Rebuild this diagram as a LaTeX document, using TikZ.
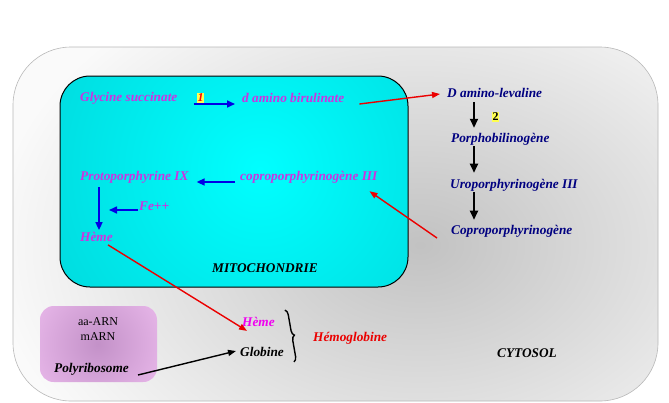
\documentclass[tikz,border=0pt]{standalone}
\usepackage{fontspec}
\setmainfont{Liberation Serif}
\usetikzlibrary{arrows.meta,decorations.pathreplacing}
\definecolor{magtxt}{RGB}{204,51,224}
\definecolor{navytxt}{RGB}{0,0,128}
\definecolor{brightmag}{RGB}{240,0,240}
\definecolor{bluearr}{RGB}{0,0,230}
\definecolor{redarr}{RGB}{235,0,0}
\definecolor{cyanin}{RGB}{0,255,255}
\definecolor{cyanout}{RGB}{0,205,210}
\definecolor{pinkin}{RGB}{195,145,200}
\definecolor{pinkout}{RGB}{248,200,248}
\definecolor{hilite}{RGB}{255,255,80}
\definecolor{bgedge}{RGB}{250,250,250}
\tikzset{
  lbl/.style={anchor=west,inner sep=0pt,font=\fontsize{13.3}{14}\selectfont\bfseries\itshape},
  mtxt/.style={lbl,text=magtxt},
  ntxt/.style={lbl,text=navytxt},
  ktxt/.style={lbl,text=black},
  numbox/.style={inner sep=0.6pt,fill=hilite,font=\fontsize{12}{13}\selectfont\bfseries},
  bluea/.style={draw=bluearr,line width=1.6pt,-{Triangle[length=8pt,width=7pt]}},
  blacka/.style={draw=black,line width=2pt,-{Triangle[length=9pt,width=8pt]}},
  blacka2/.style={draw=black,line width=1.4pt,-{Triangle[length=8pt,width=6pt]}},
  reda/.style={draw=redarr,line width=1.4pt,-{Triangle[length=8pt,width=6pt]}},
}
\begin{document}
\begin{tikzpicture}[x=1pt,y=-1pt]
\useasboundingbox (0,0) rectangle (669,402);
% outer cytosol box
\begin{scope}
  \clip[rounded corners=58] (13,47) rectangle (658,401);
  \fill[bgedge] (0,0) rectangle (669,402);
  \shade[inner color=black!24, outer color=bgedge] (420,245) ellipse (430 and 300);
\end{scope}
\draw[black!28,line width=0.6pt,rounded corners=58] (13,47) rectangle (658,401);
% mitochondria box
\begin{scope}
  \clip[rounded corners=30] (60,76) rectangle (408,287);
  \shade[inner color=cyanin, outer color=cyanout] (260,170) circle (330);
\end{scope}
\draw[black,line width=1pt,rounded corners=30] (60,76) rectangle (408,287);
% pink box
\begin{scope}
  \clip[rounded corners=14] (40,306) rectangle (157,382);
  \fill[pinkout] (40,306) rectangle (157,382);
  \shade[inner color=pinkin, outer color=pinkout] (98,344) circle (105);
\end{scope}

% mitochondria texts
\node[mtxt] (gly) at (80,98) {Glycine succinate};
\node[numbox,text=red] (one) at (200.5,98) {\itshape 1};
\node[mtxt] (dab) at (242,98) {d amino birulinate};
\node[mtxt] (proto) at (80,177) {Protoporphyrine IX};
\node[mtxt] (copro3) at (240,177) {coproporphyrinogène III};
\node[mtxt] (fe) at (139,206) {Fe++};
\node[mtxt] (heme1) at (80,237) {Hème};
\node[ktxt] (mito) at (212,268) {MITOCHONDRIE};

% cytosol column
\node[ntxt] (dal) at (447,93) {D amino-levaline};
\node[numbox,text=black] (two) at (495.5,117) {2};
\node[ntxt] (pbg) at (451,139) {Porphobilinogène};
\node[ntxt] (uro) at (450,185) {Uroporphyrinogène III};
\node[ntxt] (copro) at (451,231) {Coproporphyrinogène};

% bottom
\node[lbl,text=brightmag] (heme2) at (242,322) {Hème};
\node[ktxt] (glob) at (240,352) {Globine};
\node[lbl,text=redarr] (hgb) at (313,338) {Hémoglobine};
\node[ktxt] (cyto) at (497,353) {CYTOSOL};
\node[anchor=center,inner sep=0pt,align=center,font=\fontsize{12}{15}\selectfont] (arn) at (98,329.5) {aa-ARN\\mARN};
\node[ktxt] (poly) at (54,369) {Polyribosome};

% connectors inside mitochondria
\draw[bluea] ([xshift=16pt,yshift=-6pt]gly.east) -- ([xshift=-7pt,yshift=-6pt]dab.west);
\draw[bluea] ([xshift=-5pt,yshift=-5pt]copro3.west) -- ([xshift=8pt,yshift=-5pt]proto.east);
\draw[bluea] ([xshift=19pt,yshift=-4pt]proto.south west) -- ([xshift=19pt,yshift=2pt]heme1.north west);
\draw[bluea] ([xshift=-1pt,yshift=-4pt]fe.west) -- ++(-29,0) coordinate (feend);
% red connectors
\draw[reda] ([xshift=15pt,yshift=-6pt]dab.east) -- ([xshift=-7pt,yshift=-1pt]dal.west);
\draw[reda] ([xshift=-14pt,yshift=-7pt]copro.west) -- ([xshift=-8pt,yshift=-8pt]copro3.south east);
\draw[reda] ([xshift=28pt,yshift=-3pt]heme1.south west) -- ([xshift=5pt,yshift=-4pt]heme2.south west);
% black column arrows
\draw[blacka] ([xshift=27pt,yshift=-4pt]dal.south west) -- ([xshift=23pt,yshift=5pt]pbg.north west);
\draw[blacka] ([xshift=23pt,yshift=-1pt]pbg.south west) -- ([xshift=24pt,yshift=6pt]uro.north west);
\draw[blacka] ([xshift=24pt,yshift=-1pt]uro.south west) -- ([xshift=23pt,yshift=5pt]copro.north west);
% polyribosome to globine
\draw[blacka2] ([xshift=9pt,yshift=-6pt]poly.east) -- ([xshift=-4pt,yshift=1pt]glob.west);
% brace
\draw[black,line width=1.4pt,decorate,decoration={brace,amplitude=5pt}] ([xshift=10pt,yshift=7pt]heme2.north east) -- ([xshift=10pt,yshift=-5pt]glob.south east);
\end{tikzpicture}
\end{document}
